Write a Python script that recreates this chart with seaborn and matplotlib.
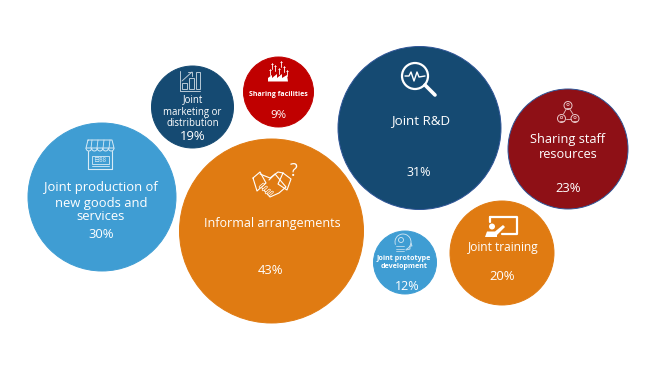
import numpy as np
import pandas as pd
import matplotlib
matplotlib.use('Agg')
import matplotlib.pyplot as plt
from matplotlib.colors import to_rgba
from matplotlib.patches import Circle, Rectangle, Polygon, Arc
import seaborn as sns

categories = ['Joint production', 'Joint marketing', 'Sharing facilities', 'Informal',
              'Joint R&D', 'Sharing staff', 'Joint training', 'Joint prototype']
labels = ['Joint production of\nnew goods and\nservices', 'Joint\nmarketing or\ndistribution',
          'Sharing facilities', 'Informal arrangements', 'Joint R&D',
          'Sharing staff\nresources', 'Joint training', 'Joint prototype\ndevelopment']
percents = [30, 19, 9, 43, 31, 23, 20, 12]

# bubble layout in pixels, the chart has no real axes
x_px = [102, 192.5, 278.5, 271.5, 419.5, 568, 502, 405]
y_px = [197, 107, 92, 231, 128, 149, 253, 262.5]
radius_px = [74, 41, 35, 92, 81.5, 60, 52, 31.5]
colors = ['#3F9DD3', '#154A72', '#C00000', '#E07B12', '#154A72', '#8E1016', '#E07B12', '#3F9DD3']
edges = [c for c in colors]
edges[4] = '#2F5597'
edges[5] = '#2F5597'

label_xy = [(101, [188, 203, 217]), (192.5, [100, 112, 123]), (278, [95]), (272, [224]),
            (421, [121]), (568, [139, 154]), (503, [248]), (404, [258, 266])]
pct_xy = [(101, 235), (192.5, 137), (278, 116), (271, 271), (419, 172), (568, 189), (502, 277), (407, 286)]
label_size = [9.4, 6.9, 5.0, 9.0, 9.6, 9.2, 8.6, 5.1]
pct_size = [9.4, 9.4, 8.2, 9.4, 9.0, 9.4, 9.4, 9.0]
label_weight = ['normal', 'normal', 'bold', 'normal', 'normal', 'normal', 'normal', 'bold']

sns.set_theme(style='white')
plt.rcParams['font.family'] = ['Open Sans', 'DejaVu Sans']

df = pd.DataFrame({'category': categories, 'x': x_px, 'y': y_px, 'percent': percents})

fig = plt.figure(figsize=(6.69, 3.73), dpi=100)
ax = fig.add_axes([0, 0, 1, 1])

sizes = {c: (2 * r * 0.72) ** 2 for c, r in zip(categories, radius_px)}
sns.scatterplot(data=df, x='x', y='y', hue='category', size='category', sizes=sizes,
                palette=dict(zip(categories, colors)), legend=False, ax=ax,
                linewidth=0.7, alpha=1, zorder=2)
ax.collections[0].set_edgecolor([to_rgba(c) for c in edges])
ax.set_xlim(0, 669)
ax.set_ylim(373, 0)
ax.axis('off')

for i in range(len(categories)):
    lx, ys = label_xy[i]
    for line_text, yy in zip(labels[i].split('\n'), ys):
        ax.text(lx, yy, line_text, color='white', fontsize=label_size[i], ha='center', va='center',
                fontweight=label_weight[i], zorder=4)
    ax.text(pct_xy[i][0], pct_xy[i][1], f'{percents[i]}%', color='white', fontsize=pct_size[i],
            ha='center', va='center', zorder=4)


def line(xs, ys, c='white', lw=0.8, alpha=1.0):
    ax.plot(xs, ys, color=c, lw=lw, alpha=alpha, zorder=3, solid_capstyle='round')


def ring(cx, cy, r, c='white', lw=0.8, alpha=1.0):
    ax.add_patch(Circle((cx, cy), r, fill=False, ec=c, lw=lw, alpha=alpha, zorder=3))


def box(x0, y0, w, h, c='white', lw=0.8, alpha=1.0):
    ax.add_patch(Rectangle((x0, y0), w, h, fill=False, ec=c, lw=lw, alpha=alpha, zorder=3))


# shop icon
shop = '#D8EBF6'
for sx in [86, 91.6, 97.2, 102.8, 108.4]:
    ax.add_patch(Arc((sx + 2.8, 148), 5.6, 6, theta1=0, theta2=180, ec=shop, lw=0.7, zorder=3))
line([88, 86, 114, 112, 88], [140, 148, 148, 140, 140], c=shop, lw=0.7)
for sx in [91, 97, 103, 109]:
    line([sx + 1, sx], [140, 148], c=shop, lw=0.6)
line([88, 88], [151, 169], c=shop, lw=0.8)
line([112, 112], [151, 169], c=shop, lw=0.8)
line([88, 112], [169, 169], c=shop, lw=0.8)
box(91.5, 155.5, 17, 8, c=shop, lw=0.6)
ax.text(100, 159.5, '日88', color=shop, fontsize=4.5, ha='center', va='center', zorder=4,
        family=['Noto Sans CJK SC', 'DejaVu Sans'])
line([91.5, 108.5], [166, 166], c=shop, lw=0.6)

# bar chart icon
pale = '#B9C9D6'
line([180, 180, 200], [71, 91, 91], c=pale, lw=0.7)
box(182, 83, 4.5, 6, c=pale, lw=0.7)
box(188.5, 78, 5, 11, c=pale, lw=0.7)
box(195.5, 72, 4.5, 17, c=pale, lw=0.7)
line([182, 192], [81, 72], c=pale, lw=0.7)
line([188, 192, 192], [72, 72, 76], c=pale, lw=0.7)

# factory icon
ax.add_patch(Polygon([(268, 81.5), (268, 78), (272, 75), (272, 78), (277, 74), (277, 78),
                      (282, 74), (282, 78), (287, 75), (288, 81.5)], fc='white', ec='none', zorder=3))
for fx, fy in [(270, 70), (275, 66), (279, 69), (284, 67), (287, 71), (272, 64), (281, 62)]:
    line([fx, fx], [fy - 1.5, fy + 5], lw=0.6)
    line([fx - 1.2, fx + 1.2], [fy, fy], lw=0.5)

# handshake icon
line([253, 260, 266, 257, 253], [178, 172, 183, 191, 178], lw=0.8)
line([283, 291, 287, 278, 283], [173, 179, 190, 184, 173], lw=0.8)
line([260, 270, 278, 283], [174, 178, 172, 173], lw=0.8)
line([269, 275, 286, 279, 270, 262], [180, 174, 187, 193, 197, 188], lw=0.8)
for hx, hy in [(260, 187), (263, 190), (266, 193), (269, 195)]:
    line([hx, hx + 3.5], [hy, hy - 3], lw=1.8, c='white')
    line([hx, hx + 3.5], [hy, hy - 3], lw=0.8, c='#E07B12')
ax.text(294, 171, '?', color='white', fontsize=13, ha='center', va='center', zorder=4)

# magnifier icon
ring(415, 76, 13, lw=1.6)
line([425, 435], [85, 95], lw=2.6)
line([405, 409, 411, 414, 417, 419, 425], [76, 76, 72, 81, 72, 77, 76], lw=1.0)

# people network icon
pk = '#E9C7C9'
for nx, ny in [(568, 105.5), (561.5, 118.5), (575, 118.5)]:
    ring(nx, ny, 4, c=pk, lw=0.7)
    ring(nx, ny - 1, 1.2, c=pk, lw=0.5)
    line([nx - 2, nx + 2], [ny + 2, ny + 2], c=pk, lw=0.6)
line([566, 563.5], [109.5, 114], c=pk, lw=0.6)
line([570, 573], [109.5, 114], c=pk, lw=0.6)
line([566, 571], [118.5, 118.5], c=pk, lw=0.6)

# training icon
line([490, 490], [222, 216.5], lw=1.6)
line([490, 517, 517, 502], [216.5, 216.5, 233.5, 233.5], lw=1.6)
ax.add_patch(Circle((492, 226.5), 3, fc='white', ec='none', zorder=3))
ax.add_patch(Polygon([(485, 237), (487, 231.5), (495, 231.5), (503, 225), (505, 227),
                      (497, 235), (497, 237)], fc='white', ec='none', zorder=3))

# head icon
head = '#D5E8F4'
ax.add_patch(Arc((403, 242), 16, 16, theta1=-200, theta2=70, ec=head, lw=0.6, zorder=3))
line([411, 412, 410, 410, 406], [243, 246, 246, 249, 250], c=head, lw=0.6)
ring(401, 240, 2.5, c=head, lw=0.6)
for hy in [246, 248.5, 251]:
    line([396, 404], [hy, hy], c=head, lw=0.5)

fig.savefig('out.png', dpi=100, facecolor='white')
